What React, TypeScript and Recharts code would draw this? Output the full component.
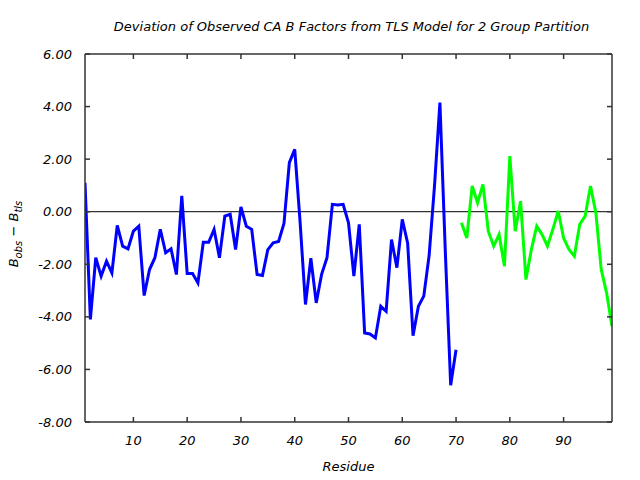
import React from 'react';
import { LineChart, Line, XAxis, YAxis, ReferenceLine } from 'recharts';

const chartTitle = 'Deviation of Observed CA B Factors from TLS Model for 2 Group Partition';
const xAxisTitle = 'Residue';

// Group 1: residues 1..70
const group1Start = 1;
const group1Values = [
  1.1, -4.1, -1.75, -2.45, -1.88, -2.33, -0.52, -1.31, -1.41, -0.74,
  -0.55, -3.19, -2.2, -1.75, -0.67, -1.56, -1.41, -2.39, 0.6, -2.35,
  -2.35, -2.71, -1.16, -1.16, -0.67, -1.75, -0.17, -0.1, -1.44, 0.18,
  -0.55, -0.67, -2.39, -2.43, -1.44, -1.18, -1.13, -0.45, 1.87, 2.37,
  -0.4, -3.53, -1.77, -3.47, -2.38, -1.75, 0.28, 0.26, 0.28, -0.42,
  -2.45, -0.48, -4.61, -4.65, -4.8, -3.6, -3.79, -1.06, -2.13, -0.29,
  -1.2, -4.72, -3.6, -3.21, -1.65, 1.0, 4.15, -1.5, -6.6, -5.25,
];

// Group 2: residues 71..99
const group2Start = 71;
const group2Values = [
  -0.42, -1.0, 0.98, 0.34, 1.04, -0.74, -1.31, -0.87, -2.07, 2.12,
  -0.74, 0.4, -2.58, -1.44, -0.55, -0.87, -1.31, -0.67, 0.03, -1.0,
  -1.44, -1.69, -0.48, -0.17, 0.98, -0.04, -2.2, -3.09, -4.36,
];

const xTicks = [10, 20, 30, 40, 50, 60, 70, 80, 90];
const yTicks = [-8, -6, -4, -2, 0, 2, 4, 6];
const xDomain = [1, 99];
const yDomain = [-8, 6];

const group1Data = group1Values.map((v, i) => ({ residue: group1Start + i, dev: v }));
const group2Data = group2Values.map((v, i) => ({ residue: group2Start + i, dev: v }));

const FONT = 'DejaVu Sans';
const TICK_LEN = 5;
const INK = '#333333';
const INK_W = 1.5;

const BottomTick = (props: any) => {
  const { x, y, payload } = props;
  return (
    <g>
      <path d={`M${x},${y}L${x},${y - TICK_LEN}`} stroke={INK} strokeWidth={INK_W} fill="none" />
      <text x={x} y={y + 22.5} textAnchor="middle" fontFamily={FONT} fontStyle="italic" fontSize={13} fill="#000">
        {payload.value}
      </text>
    </g>
  );
};

const TopTick = (props: any) => {
  const { x, y } = props;
  return <path d={`M${x},${y}L${x},${y + TICK_LEN}`} stroke={INK} strokeWidth={INK_W} fill="none" />;
};

const LeftTick = (props: any) => {
  const { x, y, payload } = props;
  return (
    <g>
      <path d={`M${x},${y}L${x + TICK_LEN},${y}`} stroke={INK} strokeWidth={INK_W} fill="none" />
      <text x={x - 13} y={y + 4.5} textAnchor="end" fontFamily={FONT} fontStyle="italic" fontSize={13} fill="#000">
        {Number(payload.value).toFixed(2)}
      </text>
    </g>
  );
};

const RightTick = (props: any) => {
  const { x, y } = props;
  return <path d={`M${x},${y}L${x - TICK_LEN},${y}`} stroke={INK} strokeWidth={INK_W} fill="none" />;
};

const textBase: React.CSSProperties = {
  position: 'absolute',
  fontFamily: FONT,
  fontStyle: 'italic',
  fontSize: 13,
  color: '#000',
  whiteSpace: 'nowrap',
  textAlign: 'center',
  pointerEvents: 'none',
};

const subStyle: React.CSSProperties = { fontSize: 10, position: 'relative', top: 4 };

export default function App() {
  return (
    <div style={{ position: 'absolute', left: 0, top: 0, width: 640, height: 480, background: '#fff' }}>
      <LineChart width={640} height={480} margin={{ top: 53, right: 27, left: 5, bottom: 18 }}>
        <XAxis
          xAxisId="bottom"
          orientation="bottom"
          type="number"
          dataKey="residue"
          domain={xDomain}
          ticks={xTicks}
          allowDataOverflow
          height={40}
          tickSize={0}
          tickMargin={0}
          tick={BottomTick}
          tickLine={false}
          stroke={INK}
          strokeWidth={INK_W}
        />
        <XAxis
          xAxisId="top"
          orientation="top"
          type="number"
          dataKey="residue"
          domain={xDomain}
          ticks={xTicks}
          allowDataOverflow
          height={1}
          tickSize={0}
          tickMargin={0}
          tick={TopTick}
          tickLine={false}
          stroke={INK}
          strokeWidth={INK_W}
        />
        <YAxis
          yAxisId="left"
          orientation="left"
          type="number"
          domain={yDomain}
          ticks={yTicks}
          allowDataOverflow
          width={80}
          tickSize={0}
          tickMargin={0}
          tick={LeftTick}
          tickLine={false}
          stroke={INK}
          strokeWidth={INK_W}
        />
        <YAxis
          yAxisId="right"
          orientation="right"
          type="number"
          domain={yDomain}
          ticks={yTicks}
          allowDataOverflow
          width={1}
          tickSize={0}
          tickMargin={0}
          tick={RightTick}
          tickLine={false}
          stroke={INK}
          strokeWidth={INK_W}
        />
        <ReferenceLine xAxisId="bottom" yAxisId="left" y={0} stroke="#000" strokeWidth={1} />
        <Line
          xAxisId="bottom"
          yAxisId="left"
          data={group1Data}
          dataKey="dev"
          stroke="#0000ff"
          strokeWidth={3}
          dot={false}
          activeDot={false}
          isAnimationActive={false}
          type="linear"
        />
        <Line
          xAxisId="bottom"
          yAxisId="left"
          data={group2Data}
          dataKey="dev"
          stroke="#00ff00"
          strokeWidth={3}
          dot={false}
          activeDot={false}
          isAnimationActive={false}
          type="linear"
        />
      </LineChart>
      <div style={{ ...textBase, left: 88, top: 19, width: 527, lineHeight: '15px' }}>{chartTitle}</div>
      <div style={{ ...textBase, left: 85, top: 459, width: 527, lineHeight: '15px' }}>{xAxisTitle}</div>
      <div
        style={{
          ...textBase,
          left: 14 - 50,
          top: 234 - 8,
          width: 100,
          height: 16,
          lineHeight: '16px',
          transform: 'rotate(-90deg)',
        }}
      >
        B<span style={subStyle}>obs</span>{' \u2212 '}B<span style={subStyle}>tls</span>
      </div>
    </div>
  );
}
